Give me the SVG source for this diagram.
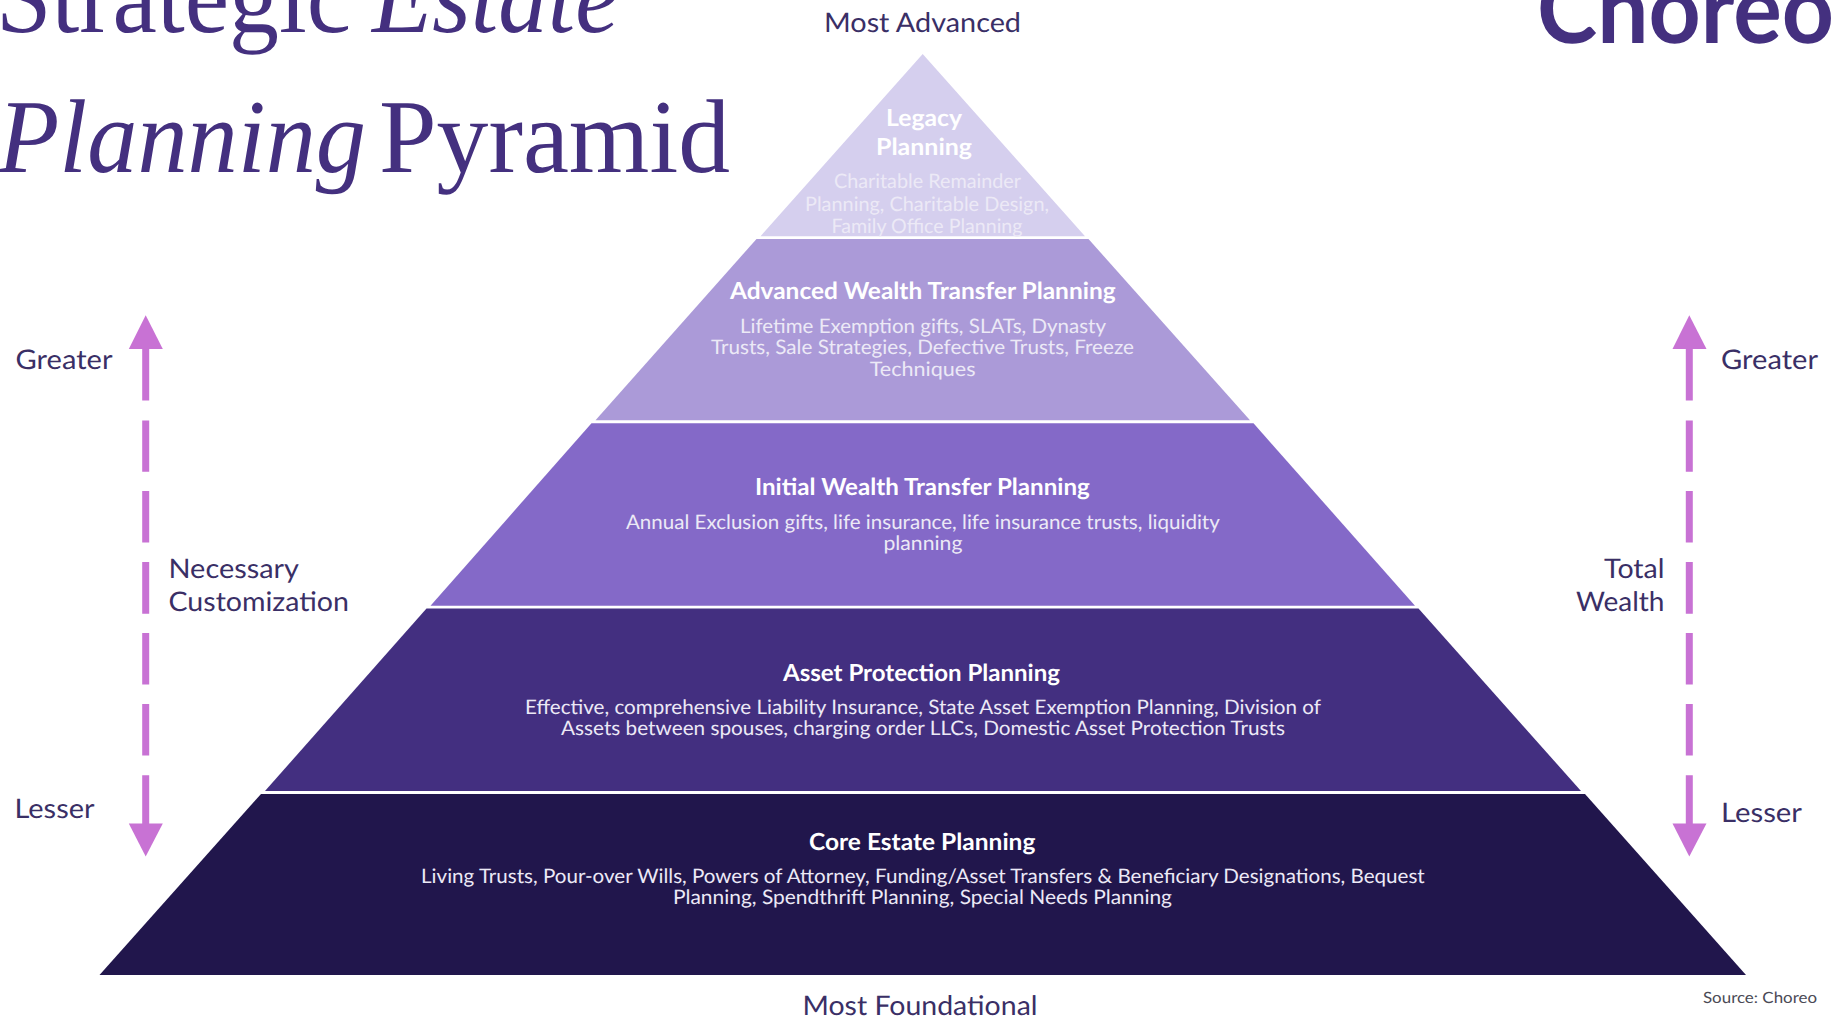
<svg xmlns="http://www.w3.org/2000/svg" width="1834" height="1017" viewBox="0 0 1834 1017">
<style>
text{font-family:"Lato","Noto Sans",sans-serif;text-rendering:geometricPrecision}
.title{font-family:"Liberation Serif","Times New Roman",serif;font-size:105px;fill:#44307f}
.it{font-style:italic}
.lab{font-size:27px;fill:#3a2f66}
.h{font-size:23.5px;font-weight:700;fill:#fff}
.b{font-size:20px;fill:#ece9f6}
.arrow{fill:#c872d4}
.dash{stroke:#c872d4;stroke-width:7;fill:none}
</style>
<rect width="1834" height="1017" fill="#fff"/>
<g id="title">
<text class="title" x="-4" y="32" textLength="355" lengthAdjust="spacingAndGlyphs">Strategic</text>
<text class="title it" x="372" y="32" textLength="247" lengthAdjust="spacingAndGlyphs">Estate</text>
<text class="title it" x="-2" y="172" textLength="368" lengthAdjust="spacingAndGlyphs">Planning</text>
<text class="title" x="379" y="172" textLength="351" lengthAdjust="spacingAndGlyphs">Pyramid</text>
</g>
<g id="logo"><text x="1537" y="43" font-size="96" font-weight="700" fill="#44307f" textLength="297" lengthAdjust="spacingAndGlyphs">Choreo</text></g>
<g id="layer-legacy">
<polygon points="922.7,54 1085,236.3 760.5,236.3" fill="#d5cfee"/>
<text class="h" x="886" y="126" textLength="76" lengthAdjust="spacingAndGlyphs">Legacy</text>
<text class="h" x="876" y="155" textLength="96" lengthAdjust="spacingAndGlyphs">Planning</text>
<text class="b" x="834" y="188" textLength="187" lengthAdjust="spacingAndGlyphs">Charitable Remainder</text>
<text class="b" x="805" y="210.5" textLength="244" lengthAdjust="spacingAndGlyphs">Planning, Charitable Design,</text>
<text class="b" x="831.5" y="233" textLength="191" lengthAdjust="spacingAndGlyphs">Family Office Planning</text>
</g>
<g id="layer-advanced">
<polygon points="756.5,239 1088.5,239 1250,420.3 595.5,420.3" fill="#ab9ad8"/>
<text class="h" x="730" y="299.3" textLength="385.6" lengthAdjust="spacingAndGlyphs">Advanced Wealth Transfer Planning</text>
<text class="b" x="740" y="332.5" textLength="366" lengthAdjust="spacingAndGlyphs">Lifetime Exemption gifts, SLATs, Dynasty</text>
<text class="b" x="711" y="353.8" textLength="423" lengthAdjust="spacingAndGlyphs">Trusts, Sale Strategies, Defective Trusts, Freeze</text>
<text class="b" x="869.7" y="376" textLength="105.8" lengthAdjust="spacingAndGlyphs">Techniques</text>
</g>
<g id="layer-initial">
<polygon points="591.5,423.3 1253.5,423.3 1415,605.7 430.5,605.7" fill="#8469c8"/>
<text class="h" x="755" y="495.3" textLength="334.8" lengthAdjust="spacingAndGlyphs">Initial Wealth Transfer Planning</text>
<text class="b" x="626" y="528.5" textLength="593.8" lengthAdjust="spacingAndGlyphs">Annual Exclusion gifts, life insurance, life insurance trusts, liquidity</text>
<text class="b" x="883.5" y="549.8" textLength="78.9" lengthAdjust="spacingAndGlyphs">planning</text>
</g>
<g id="layer-asset">
<polygon points="426.5,608.5 1418.5,608.5 1581,791 265,791" fill="#432f80"/>
<text class="h" x="783" y="680.5" textLength="277" lengthAdjust="spacingAndGlyphs">Asset Protection Planning</text>
<text class="b" x="525" y="713.8" textLength="796" lengthAdjust="spacingAndGlyphs">Effective, comprehensive Liability Insurance, State Asset Exemption Planning, Division of</text>
<text class="b" x="561" y="734.8" textLength="724" lengthAdjust="spacingAndGlyphs">Assets between spouses, charging order LLCs, Domestic Asset Protection Trusts</text>
</g>
<g id="layer-core">
<polygon points="261,794 1585,794 1746,975 99.5,975" fill="#21164c"/>
<text class="h" x="809" y="850" textLength="226.4" lengthAdjust="spacingAndGlyphs">Core Estate Planning</text>
<text class="b" x="421" y="883" textLength="1003.7" lengthAdjust="spacingAndGlyphs">Living Trusts, Pour-over Wills, Powers of Attorney, Funding/Asset Transfers &amp; Beneficiary Designations, Bequest</text>
<text class="b" x="673" y="904.3" textLength="499" lengthAdjust="spacingAndGlyphs">Planning, Spendthrift Planning, Special Needs Planning</text>
</g>
<g id="connectors">
<g id="arrow-left">
<path class="dash" d="M145.7 348V400.6M145.7 420.5V471.8M145.7 491V542.6M145.7 562V613.8M145.7 633V684.6M145.7 704V755.4M145.7 775.3V824"/>
<polygon class="arrow" points="145.7,315.3 162.8,349 128.8,349"/>
<polygon class="arrow" points="128.8,823.5 162.8,823.5 145.7,856.5"/>
</g>
<g id="arrow-right">
<path class="dash" d="M1689.3 348V400.6M1689.3 420.5V471.8M1689.3 491V542.6M1689.3 562V613.8M1689.3 633V684.6M1689.3 704V755.4M1689.3 775.3V824"/>
<polygon class="arrow" points="1689.3,315.3 1706.5,349 1672.5,349"/>
<polygon class="arrow" points="1672.5,823.5 1706.5,823.5 1689.3,856.5"/>
</g>
</g>
<g id="labels">
<text class="lab" x="824" y="31.5" textLength="197" lengthAdjust="spacingAndGlyphs">Most Advanced</text>
<text class="lab" x="802.5" y="1015" textLength="235" lengthAdjust="spacingAndGlyphs">Most Foundational</text>
<text class="lab" x="15.5" y="369" textLength="97" lengthAdjust="spacingAndGlyphs">Greater</text>
<text class="lab" x="168.5" y="578" textLength="130.5" lengthAdjust="spacingAndGlyphs">Necessary</text>
<text class="lab" x="168.5" y="611" textLength="180.5" lengthAdjust="spacingAndGlyphs">Customization</text>
<text class="lab" x="14.5" y="818" textLength="80" lengthAdjust="spacingAndGlyphs">Lesser</text>
<text class="lab" x="1721" y="369" textLength="97" lengthAdjust="spacingAndGlyphs">Greater</text>
<text class="lab" x="1604" y="578" textLength="60.5" lengthAdjust="spacingAndGlyphs">Total</text>
<text class="lab" x="1576" y="611" textLength="88.5" lengthAdjust="spacingAndGlyphs">Wealth</text>
<text class="lab" x="1721" y="822" textLength="81" lengthAdjust="spacingAndGlyphs">Lesser</text>
<text x="1703" y="1003.3" font-size="15.5" fill="#4a4a55" textLength="114" lengthAdjust="spacingAndGlyphs">Source: Choreo</text>
</g>
</svg>
